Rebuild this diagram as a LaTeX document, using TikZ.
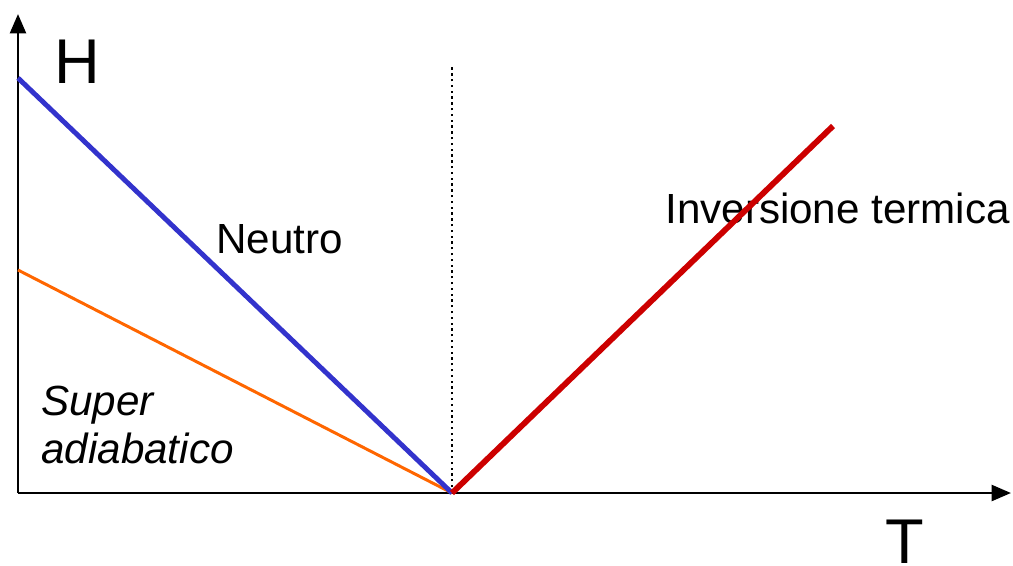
\documentclass[tikz,border=0pt]{standalone}
\usepackage{fontspec}
\setmainfont{Liberation Sans}
\usetikzlibrary{arrows.meta}
\definecolor{neutroblue}{RGB}{51, 51, 204}
\definecolor{superorange}{RGB}{255, 102, 0}
\definecolor{inversred}{RGB}{204, 0, 0}

\begin{document}
\begin{tikzpicture}[x=0.02cm, y=-0.02cm,
    axis/.style={line width=1.6pt, -{Triangle[length=11pt, width=9pt]}},
    label/.style={inner sep=0pt, anchor=base west, font=\fontsize{24}{28}\selectfont}]
    \useasboundingbox (0,0) rectangle (1013,565);
    % Origin and line ends
    \coordinate (o) at (452, 493);
    \coordinate (hor) at (18, 493);
    \coordinate (ytop) at (18, 14);
    \coordinate (xend) at (1011, 493);
    \coordinate (neutrotop) at (18, 78);
    \coordinate (supertop) at (18, 270);
    \coordinate (invtop) at (833, 126);
    \coordinate (dottop) at (452, 65);
    
    % Axes
    \draw[axis] (hor) -- (ytop);
    \draw[axis] (hor) -- (xend);
    \node[inner sep=0pt, anchor=base, font=\fontsize{36}{40}\selectfont] (hlab) at (77, 83) {H};
    \node[inner sep=0pt, text depth=0pt, anchor=base, font=\fontsize{36}{40}\selectfont] (tlab) at (905, 563) {T};
    
    % Dotted vertical through the origin
    \draw[line width=1.3pt, dotted] (o) -- (dottop);
    
    % Labels
    \node[label] (neutro) at (216, 253) {Neutro};
    \node[label] (inv) at (665, 223) {Inversione termica};
    \node[label, font=\fontsize{24}{28}\selectfont\itshape] (super) at (41, 415) {Super};
    \node[label, font=\fontsize{24}{28}\selectfont\itshape] (adiab) at (41, 463) {adiabatico};
    
    % Profiles
    \draw[superorange, line width=1.7pt] (supertop) -- (o);
    \draw[neutroblue, line width=2.8pt] (neutrotop) -- (o);
    \draw[inversred, line width=3.3pt] (o) -- (invtop);
\end{tikzpicture}
\end{document}
